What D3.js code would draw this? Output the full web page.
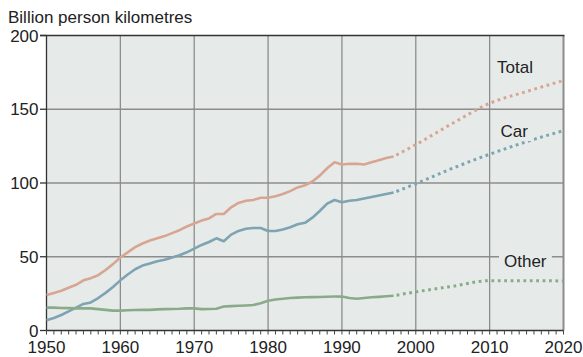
<!DOCTYPE html>
<html>
<head>
<meta charset="utf-8">
<script src="https://cdn.jsdelivr.net/npm/d3@7"></script>
<style>
  html, body { margin: 0; padding: 0; background: #ffffff; }
  svg { display: block; font-family: "Liberation Sans", Arial, sans-serif; }
</style>
</head>
<body>
<svg id="chart" width="583" height="357"></svg>
<script>
// Passenger transport, billion person kilometres, 1950-1997 recorded, projected to 2020
const years = d3.range(1950, 1998);
const totalValues = [
  24, 25.5, 27, 29, 31, 34, 35.5, 37.5, 41, 45,
  49.5, 53, 56.5, 59, 61, 62.5, 64, 66, 68, 70.5,
  72.5, 74.5, 76, 79, 79, 83.5, 86.5, 88, 88.5, 90,
  90, 91, 92.5, 94.5, 97, 98.5, 101, 105, 110, 114,
  112.5, 113, 113, 112.5, 114, 115.5, 117, 118
];
const carValues = [
  7, 8.5, 10.5, 13, 15.5, 18, 19, 22, 25.5, 29.5,
  34, 38, 41.5, 44, 45.5, 47, 48, 49.5, 51, 53,
  55.5, 58, 60, 62.5, 60.5, 65, 67.5, 69, 69.5, 69.5,
  67.5, 67.5, 68.5, 70, 72, 73, 76.5, 81, 86, 88.5,
  87, 88, 88.5, 89.5, 90.5, 91.5, 92.5, 93.5
];
const otherValues = [
  15.5, 15.5, 15.3, 15.2, 15, 15, 15, 14.5, 14, 13.5,
  13.5, 13.7, 13.9, 14, 14, 14.3, 14.5, 14.6, 14.7, 15,
  15, 14.5, 14.6, 14.7, 16.3, 16.5, 16.8, 17, 17.3, 18.5,
  20.2, 21, 21.5, 22, 22.3, 22.5, 22.6, 22.7, 22.9, 23,
  23, 22, 21.5, 22, 22.5, 22.8, 23.2, 23.6
];

// Forecast
const projYears = [1997, 2000, 2005, 2010, 2015, 2020];
const totalProj = [118, 126, 140.5, 154, 162, 169.5];
const carProj = [93.5, 99.5, 110, 119.5, 128, 135.5];
const otherProj = [23.6, 26.2, 30, 33.8, 33.8, 33.6];

const yTicks = [0, 50, 100, 150, 200];
const xTicks = [1950, 1960, 1970, 1980, 1990, 2000, 2010, 2020];
const yTitle = "Billion person kilometres";

const series = [
  { name: "Total", actual: totalValues, proj: totalProj, color: "#d8a593", lx: 497, ly: 73 },
  { name: "Car", actual: carValues, proj: carProj, color: "#7ea3b2", lx: 500.5, ly: 137 },
  { name: "Other", actual: otherValues, proj: otherProj, color: "#8aab8a", lx: 504, ly: 267 }
];

const svg = d3.select("#chart");
const x0 = 46.5, x1 = 563.5, yTop = 35.5, yBot = 330.5;
const x = d3.scaleLinear().domain([1950, 2020]).range([x0, x1]);
const y = d3.scaleLinear().domain([0, 200]).range([yBot, yTop]);

const plotBg = "#e6ebe9";
const gridColor = "#8c8c8c";
const ink = "#222222";

// Plot background
svg.append("rect")
  .attr("x", x0).attr("y", yTop)
  .attr("width", x1 - x0).attr("height", yBot - yTop)
  .attr("fill", plotBg);

// Horizontal grid
svg.append("g").selectAll("line")
  .data(yTicks.filter(d => d > 0 && d < 200))
  .join("line")
  .attr("x1", x0).attr("x2", x1)
  .attr("y1", d => y(d)).attr("y2", d => y(d))
  .attr("stroke", gridColor).attr("stroke-width", 1.3);

// Vertical grid
svg.append("g").selectAll("line")
  .data(xTicks.filter(d => d > 1950 && d < 2020))
  .join("line")
  .attr("x1", d => x(d)).attr("x2", d => x(d))
  .attr("y1", yTop).attr("y2", yBot)
  .attr("stroke", gridColor).attr("stroke-width", 1.3);

// Right border
svg.append("line")
  .attr("x1", x1).attr("x2", x1).attr("y1", yTop).attr("y2", yBot)
  .attr("stroke", gridColor).attr("stroke-width", 2);

// Top rule at 200
svg.append("line")
  .attr("x1", 40).attr("x2", x1 + 1).attr("y1", yTop).attr("y2", yTop)
  .attr("stroke", "#333").attr("stroke-width", 1.3);

// Y axis
const yAxis = svg.append("g");
yAxis.append("line")
  .attr("x1", x0).attr("x2", x0).attr("y1", yTop).attr("y2", yBot)
  .attr("stroke", "#333").attr("stroke-width", 1.3);
yAxis.selectAll("line.tick")
  .data(yTicks)
  .join("line").attr("class", "tick")
  .attr("x1", 40).attr("x2", x0)
  .attr("y1", d => y(d)).attr("y2", d => y(d))
  .attr("stroke", "#333").attr("stroke-width", 1.3);
yAxis.selectAll("text")
  .data(yTicks)
  .join("text")
  .attr("x", 38.5).attr("y", d => y(d) + 6)
  .attr("text-anchor", "end")
  .attr("font-size", 17).attr("fill", ink)
  .text(d => d);

// X axis
const xAxis = svg.append("g");
xAxis.append("line")
  .attr("x1", x0).attr("x2", x1).attr("y1", yBot).attr("y2", yBot)
  .attr("stroke", "#333").attr("stroke-width", 1.3);
xAxis.selectAll("line.minor")
  .data(d3.range(1950, 2021))
  .join("line").attr("class", "minor")
  .attr("x1", d => x(d)).attr("x2", d => x(d))
  .attr("y1", yBot).attr("y2", yBot + 4)
  .attr("stroke", "#444").attr("stroke-width", 1);
xAxis.selectAll("text")
  .data(xTicks)
  .join("text")
  .attr("x", d => x(d)).attr("y", 353)
  .attr("text-anchor", "middle")
  .attr("font-size", 17).attr("fill", ink)
  .text(d => d);

// Axis title
svg.append("text")
  .attr("x", 8).attr("y", 23)
  .attr("font-size", 17).attr("fill", ink)
  .text(yTitle);

// Lines
const lineActual = d3.line().x((d, i) => x(years[i])).y(d => y(d));
const lineProj = d3.line().x((d, i) => x(projYears[i])).y(d => y(d)).curve(d3.curveMonotoneX);

const lines = svg.append("g");
series.forEach(s => {
  lines.append("path")
    .datum(s.actual)
    .attr("d", lineActual)
    .attr("fill", "none")
    .attr("stroke", s.color)
    .attr("stroke-width", 2.6)
    .attr("stroke-linejoin", "round");
  lines.append("path")
    .datum(s.proj)
    .attr("d", lineProj)
    .attr("fill", "none")
    .attr("stroke", s.color)
    .attr("stroke-width", 3)
    .attr("stroke-dasharray", "2.8,3.6")
    .attr("stroke-dashoffset", -3);
});

// Series labels
const labels = svg.append("g");
series.forEach(s => {
  const t = labels.append("text")
    .attr("x", s.lx).attr("y", s.ly)
    .attr("font-size", 17).attr("fill", ink)
    .text(s.name);
  const b = t.node().getBBox();
  labels.insert("rect", "text")
    .attr("x", b.x - 5).attr("y", b.y)
    .attr("width", b.width + 10).attr("height", b.height)
    .attr("fill", plotBg);
});
</script>
</body>
</html>
